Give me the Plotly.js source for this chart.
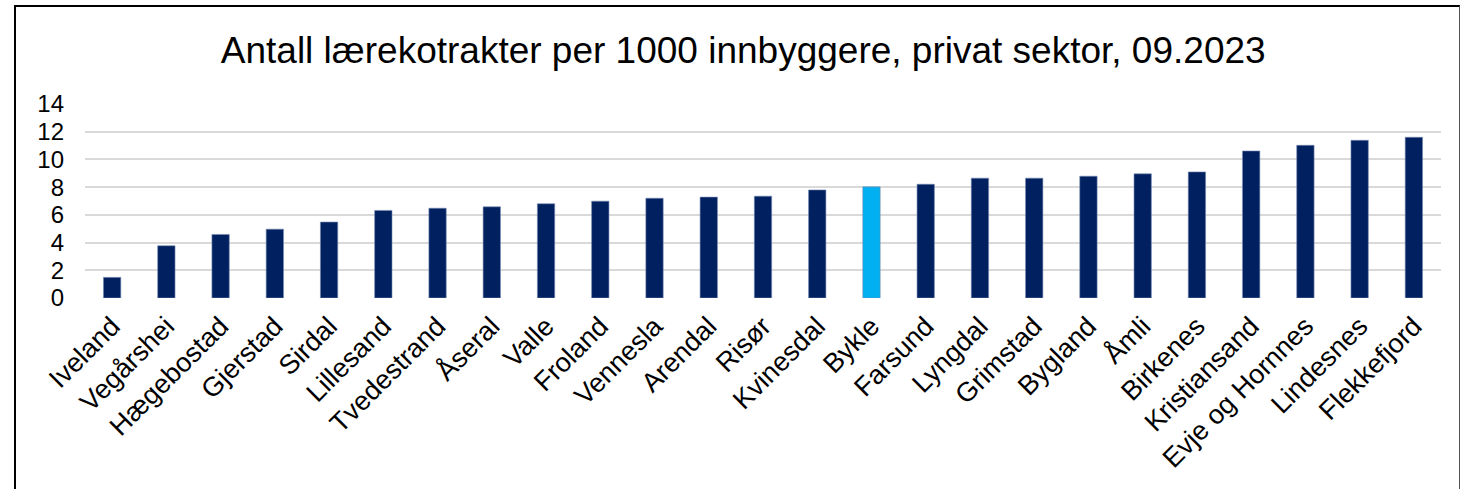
<!DOCTYPE html>
<html>
<head>
<meta charset="utf-8">
<script src="https://cdn.plot.ly/plotly-3.0.1.min.js"></script>
<style>
  body { margin: 0; background: #fff; }
  #frame { position: absolute; left: 14px; top: 5px; width: 1443px; height: 600px;
           border-left: 2px solid #000; border-top: 2px solid #000; border-right: 1px solid #555;
           pointer-events: none; }
</style>
</head>
<body>
<div id="chart" style="width:1463px;height:489px;"></div>
<div id="frame"></div>
<script>
var kommuner = ["Iveland", "Vegårshei", "Hægebostad", "Gjerstad", "Sirdal", "Lillesand", "Tvedestrand",
  "Åseral", "Valle", "Froland", "Vennesla", "Arendal", "Risør", "Kvinesdal", "Bykle", "Farsund",
  "Lyngdal", "Grimstad", "Bygland", "Åmli", "Birkenes", "Kristiansand", "Evje og Hornnes",
  "Lindesnes", "Flekkefjord"];

var antall = [1.49, 3.77, 4.59, 4.97, 5.48, 6.32, 6.48, 6.58, 6.80, 6.99, 7.20, 7.28, 7.35, 7.80,
  8.02, 8.21, 8.65, 8.65, 8.79, 8.96, 9.10, 10.61, 11.02, 11.38, 11.60];

var uthevet = "Bykle";

var farger = kommuner.map(function (k) { return k === uthevet ? '#00b0f0' : '#002060'; });

var trace1 = {
  x: kommuner,
  y: antall,
  type: 'bar',
  hoverinfo: 'x+y',
  marker: {
    color: farger,
    line: { color: 'rgba(120,140,180,0.6)', width: 1 }
  }
};

var layout = {
  title: {
    text: 'Antall lærekotrakter per 1000 innbyggere, privat sektor, 09.2023',
    font: { family: 'Liberation Sans, Arial, sans-serif', size: 37, color: '#000' },
    x: 0.508, xref: 'container', xanchor: 'center',
    y: 0.898, yref: 'container', yanchor: 'middle'
  },
  font: { family: 'Liberation Sans, Arial, sans-serif', size: 24, color: '#000' },
  showlegend: false,
  bargap: 0.68,
  xaxis: {
    tickangle: -45,
    tickfont: { size: 27 },
    showline: false,
    ticks: '',
    automargin: false
  },
  yaxis: {
    range: [0, 14],
    dtick: 2,
    gridcolor: '#d9d9d9',
    gridwidth: 2,
    zeroline: false,
    tickfont: { size: 24 },
    ticks: '',
    ticklabelstandoff: 14,
    automargin: false
  },
  width: 1463,
  height: 489,
  margin: { l: 85, r: 22, t: 104, b: 191, pad: 6 },
  paper_bgcolor: '#fff',
  plot_bgcolor: '#fff'
};

Plotly.newPlot('chart', [trace1], layout, { displayModeBar: false });
</script>
</body>
</html>
